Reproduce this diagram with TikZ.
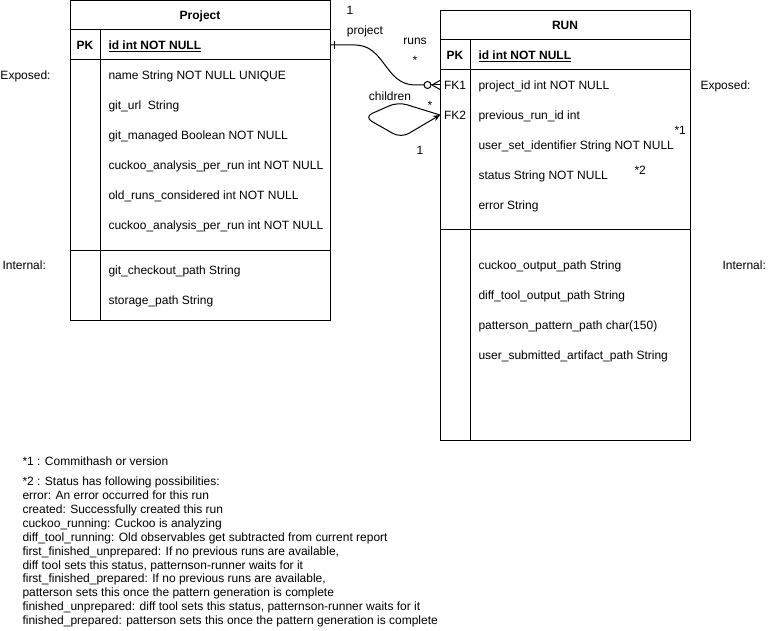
\documentclass[tikz,border=0pt]{standalone}
\usepackage{fontspec}
\setmainfont{Liberation Sans}
\usetikzlibrary{arrows.meta}
\begin{document}
\begin{tikzpicture}[x=1pt,y=1pt,line width=1pt,
  every node/.style={font=\fontsize{12}{14}\selectfont, inner sep=0pt},
  txt/.style={anchor=base west},
  ctr/.style={anchor=base},
  box/.style={draw, line width=1pt, anchor=north west}]
\useasboundingbox (0,0) rectangle (771,-631);
% ---------- Project entity
\node[box, minimum width=260pt, minimum height=320pt] (proj) at (70,0) {};
\draw (70,-30) -- (330,-30);
\draw (70,-60) -- (330,-60);
\draw (70,-250) -- (330,-250);
\draw (100,-30) -- (100,-320);
\node[ctr] (projT) at (200,-19.5) {\textbf{Project}};
\node[ctr] (projPK) at (85,-49.5) {\textbf{PK}};
\node[txt] (p0) at (108,-49.5) {\textbf{\underline{id int NOT NULL}}};
\node[txt] (p1) at (108,-79.5) {name String NOT NULL UNIQUE};
\node[txt] (p2) at (108,-109.5) {git\_url\ \ String};
\node[txt] (p3) at (108,-139.5) {git\_managed Boolean NOT NULL};
\node[txt] (p4) at (108,-169.5) {cuckoo\_analysis\_per\_run int NOT NULL};
\node[txt] (p5) at (108,-199.5) {old\_runs\_considered int NOT NULL};
\node[txt] (p6) at (108,-229.5) {cuckoo\_analysis\_per\_run int NOT NULL};
\node[txt] (p7) at (108,-274.5) {git\_checkout\_path String};
\node[txt] (p8) at (108,-304.5) {storage\_path String};
\node[txt] (expL) at (0,-79.5) {Exposed:};
\node[txt] (intL) at (2,-269.5) {Internal:};
% ---------- RUN entity
\node[box, minimum width=250pt, minimum height=430pt] (run) at (440,-10) {};
\draw (440,-40) -- (690,-40);
\draw (440,-70) -- (690,-70);
\draw (440,-230) -- (690,-230);
\draw (470,-40) -- (470,-440);
\node[ctr] (runT) at (565,-29.5) {\textbf{RUN}};
\node[ctr] (runPK) at (455,-59.5) {\textbf{PK}};
\node[ctr] (runFK1) at (455,-89.5) {FK1};
\node[ctr] (runFK2) at (455,-119.5) {FK2};
\node[txt] (r0) at (478,-59.5) {\textbf{\underline{id int NOT NULL}}};
\node[txt] (r1) at (478,-89.5) {project\_id int NOT NULL};
\node[txt] (r2) at (478,-119.5) {previous\_run\_id int};
\node[txt] (r3) at (478,-149.5) {user\_set\_identifier String NOT NULL};
\node[txt] (r4) at (478,-179.5) {status String NOT NULL};
\node[txt] (r5) at (478,-209.5) {error String};
\node[txt] (r6) at (478,-269.5) {cuckoo\_output\_path String};
\node[txt] (r7) at (478,-299.5) {diff\_tool\_output\_path String};
\node[txt] (r8) at (478,-329.5) {patterson\_pattern\_path char(150)};
\node[txt] (r9) at (478,-359.5) {user\_submitted\_artifact\_path String};
\node[txt] (star1) at (674,-134.5) {*1};
\node[txt] (star2) at (634,-174.5) {*2};
\node[txt] (expR) at (700,-89.5) {Exposed:};
\node[txt] (intR) at (722,-269.5) {Internal:};
% ---------- connection points
\coordinate (pkE) at (330,-45);
\coordinate (fk1) at (440,-85);
\coordinate (fk2) at (440,-115);
% ---------- project -> runs (one to zero-or-many)
\draw (pkE) -- (355,-45) .. controls (385,-45) and (385,-85) .. (415,-85) -- (424,-85);
\draw (334,-41) -- (334,-49);
\draw (427.5,-85) circle (3.5);
\draw (431,-85) -- (fk1);
\draw (432,-85) -- (440,-80.5);
\draw (432,-85) -- (440,-89.5);
\node[ctr] (l1) at (350,-14.5) {1};
\node[ctr] (lproj) at (365,-34.5) {project};
\node[ctr] (lruns) at (415,-44.5) {runs};
\node[ctr] (lstar) at (415,-64.5) {*};
% ---------- self relation children
\draw[rounded corners=9pt, -{Stealth[length=7pt,width=6pt]}] (fk2) -- (398,-102) -- (364,-117) -- (401,-138) -- (fk2);
\node[ctr] (lch) at (390,-100.5) {children};
\node[ctr] (lstar2) at (430,-109.5) {*};
\node[ctr] (l1b) at (420,-154.5) {1};
% ---------- notes
\node[txt] (n0) at (22,-465.3) {*1 : Commithash or version};
\foreach \t [count=\i] in {{*2 : Status has following possibilities:},
  {error: An error occurred for this run},
  {created: Successfully created this run},
  {cuckoo\_running: Cuckoo is analyzing},
  {diff\_tool\_running: Old observables get subtracted from current report},
  {first\_finished\_unprepared: If no previous runs are available,},
  {diff tool sets this status, patternson-runner waits for it},
  {first\_finished\_prepared: If no previous runs are available,},
  {patterson sets this once the pattern generation is complete},
  {finished\_unprepared: diff tool sets this status, patternson-runner waits for it},
  {finished\_prepared: patterson sets this once the pattern generation is complete}}
  \node[txt] (note\i) at (22,{-485.3-13.95*(\i-1)}) {\t};
\end{tikzpicture}
\end{document}
